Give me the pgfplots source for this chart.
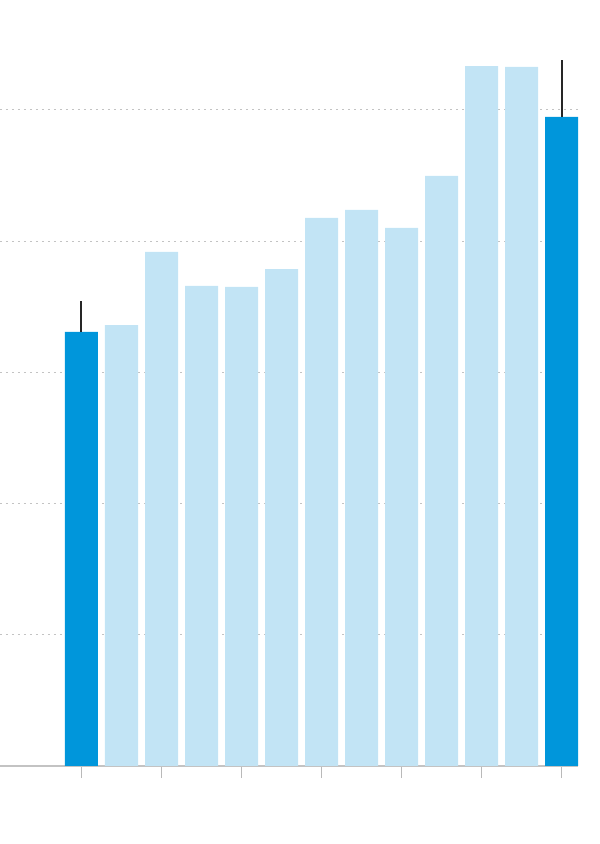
\documentclass[border=0pt]{standalone}
\usepackage{pgfplots}
\pgfplotsset{compat=1.18}
\definecolor{darkb}{RGB}{0,150,219}
\definecolor{lightb}{RGB}{194,228,245}
\definecolor{gridc}{RGB}{185,185,185}
\definecolor{gridd}{RGB}{195,195,195}
\definecolor{basec}{RGB}{195,195,195}
\begin{document}
\begin{tikzpicture}
\useasboundingbox (0,0) rectangle (600pt,844pt);
\begin{axis}[
  at={(0pt,78pt)}, anchor=south west,
  scale only axis, width=578pt, height=766pt,
  xmin=-2.0375, xmax=12.4125, ymin=0, ymax=5.8384,
  axis lines*=left,
  x axis line style={basec, line width=1.2pt, -},
  y axis line style={draw=none},
  xtick={0,2,4,6,8,10,12}, xticklabels={},
  xtick style={gridc, line width=1pt},
  major tick length=12pt, tick align=outside,
  ytick={1,2,3,4,5}, yticklabels={},
  ymajorgrids, major y grid style={gridd, line width=1pt, dash pattern=on 2.3pt off 3.7pt},
  ytick style={draw=none},
  clip=false,
]
\addplot[ybar, bar width=0.825, bar shift=0pt, fill=lightb, draw=none] coordinates {
(1,3.361) (2,3.918) (3,3.659) (4,3.651) (5,3.788) (6,4.177) (7,4.238) (8,4.101) (9,4.497) (10,5.335) (11,5.328)};
\addplot[ybar, bar width=0.825, bar shift=0pt, fill=darkb, draw=none,
  error bars/.cd, y dir=plus, y explicit, error mark=none,
  error bar style={black!85, line width=2pt}] coordinates {
(0,3.308) +- (0,0.236) (12,4.947) +- (0,0.434)};
\end{axis}
\end{tikzpicture}
\end{document}
